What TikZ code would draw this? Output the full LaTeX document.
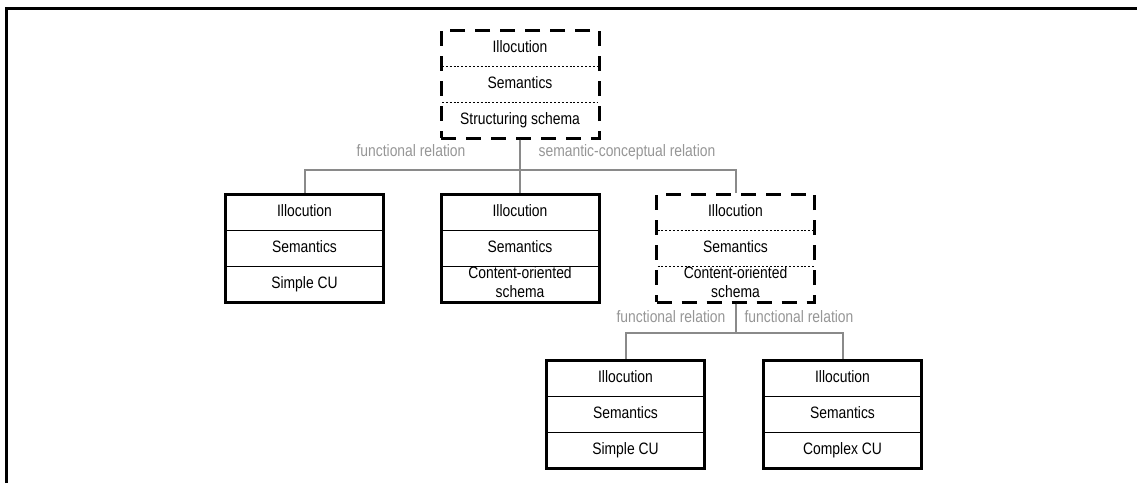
\documentclass[tikz,border=0pt]{standalone}
\usepackage{fontspec}
\setmainfont[FakeStretch=0.84]{Liberation Sans}
\definecolor{linkgray}{RGB}{138,138,138}
\definecolor{labelgray}{RGB}{150,150,150}
% one communicative unit: name, frame style, rule style, centre x, top y, three rows
\newcommand\unitbox[8]{%
  \node[#2] (#1) at (#4,#5+54) {};
  \draw[#3] (#4-78,#5+36) -- (#4+78,#5+36);
  \draw[#3] (#4-78,#5+72) -- (#4+78,#5+72);
  \node[rowtext] (#1-a) at (#4,#5+18) {#6};
  \node[rowtext] (#1-b) at (#4,#5+54) {#7};
  \node[rowtext] (#1-c) at (#4,#5+90) {#8};
}
\begin{document}
\begin{tikzpicture}[x=0.75pt,y=-0.75pt,
  every node/.style={font=\fontsize{12.4}{14.25}\selectfont, inner sep=0pt},
  solidbox/.style={draw, line width=2.25pt, minimum width=118.5pt, minimum height=81pt},
  dashbox/.style={solidbox, dash pattern=on 11.25pt off 7.5pt},
  rowtext/.style={text height=8.9pt, text depth=2.6pt, align=center},
  solidrule/.style={line width=0.75pt},
  dotrule/.style={line width=0.75pt, dash pattern=on 1.5pt off 1.4pt},
  conn/.style={draw=linkgray, line width=1.5pt},
  rel/.style={text=labelgray, text height=8.9pt, text depth=2.6pt},
]
\useasboundingbox (0,0) rectangle (1137,483);

% outer frame
\draw[line width=2.25pt] (6,483) -- (6,8) -- (1137,8);

% units
\unitbox{top}{dashbox}{dotrule}{520}{30}{Illocution}{Semantics}{Structuring schema}
\unitbox{simple1}{solidbox}{solidrule}{304.5}{194}{Illocution}{Semantics}{Simple CU}
\unitbox{content}{solidbox}{solidrule}{520}{194}{Illocution}{Semantics}{}
\unitbox{mid}{dashbox}{dotrule}{735.5}{194}{Illocution}{Semantics}{}
\unitbox{simple2}{solidbox}{solidrule}{625.5}{360}{Illocution}{Semantics}{Simple CU}
\unitbox{complex}{solidbox}{solidrule}{842.5}{360}{Illocution}{Semantics}{Complex CU}

% two-line bottom rows
\node[align=center] (content-d) at (520,282) {Content-oriented\\schema};
\node[align=center] (mid-d) at (735.5,282) {Content-oriented\\schema};

% connectors
\draw[conn] (top.south) -- ++(0,30) -| (simple1.north);
\draw[conn] (top.south) -- (content.north);
\draw[conn] (top.south) -- ++(0,30) -| (mid.north);
\draw[conn] (mid.south) -- ++(0,29) -| (simple2.north);
\draw[conn] (mid.south) -- ++(0,29) -| (complex.north);

% relation labels
\node[rel] (r1) at (411,152) {functional relation};
\node[rel] (r2) at (627,152) {semantic-conceptual relation};
\node[rel] (r3) at (671,318) {functional relation};
\node[rel] (r4) at (799,318) {functional relation};
\end{tikzpicture}
\end{document}
